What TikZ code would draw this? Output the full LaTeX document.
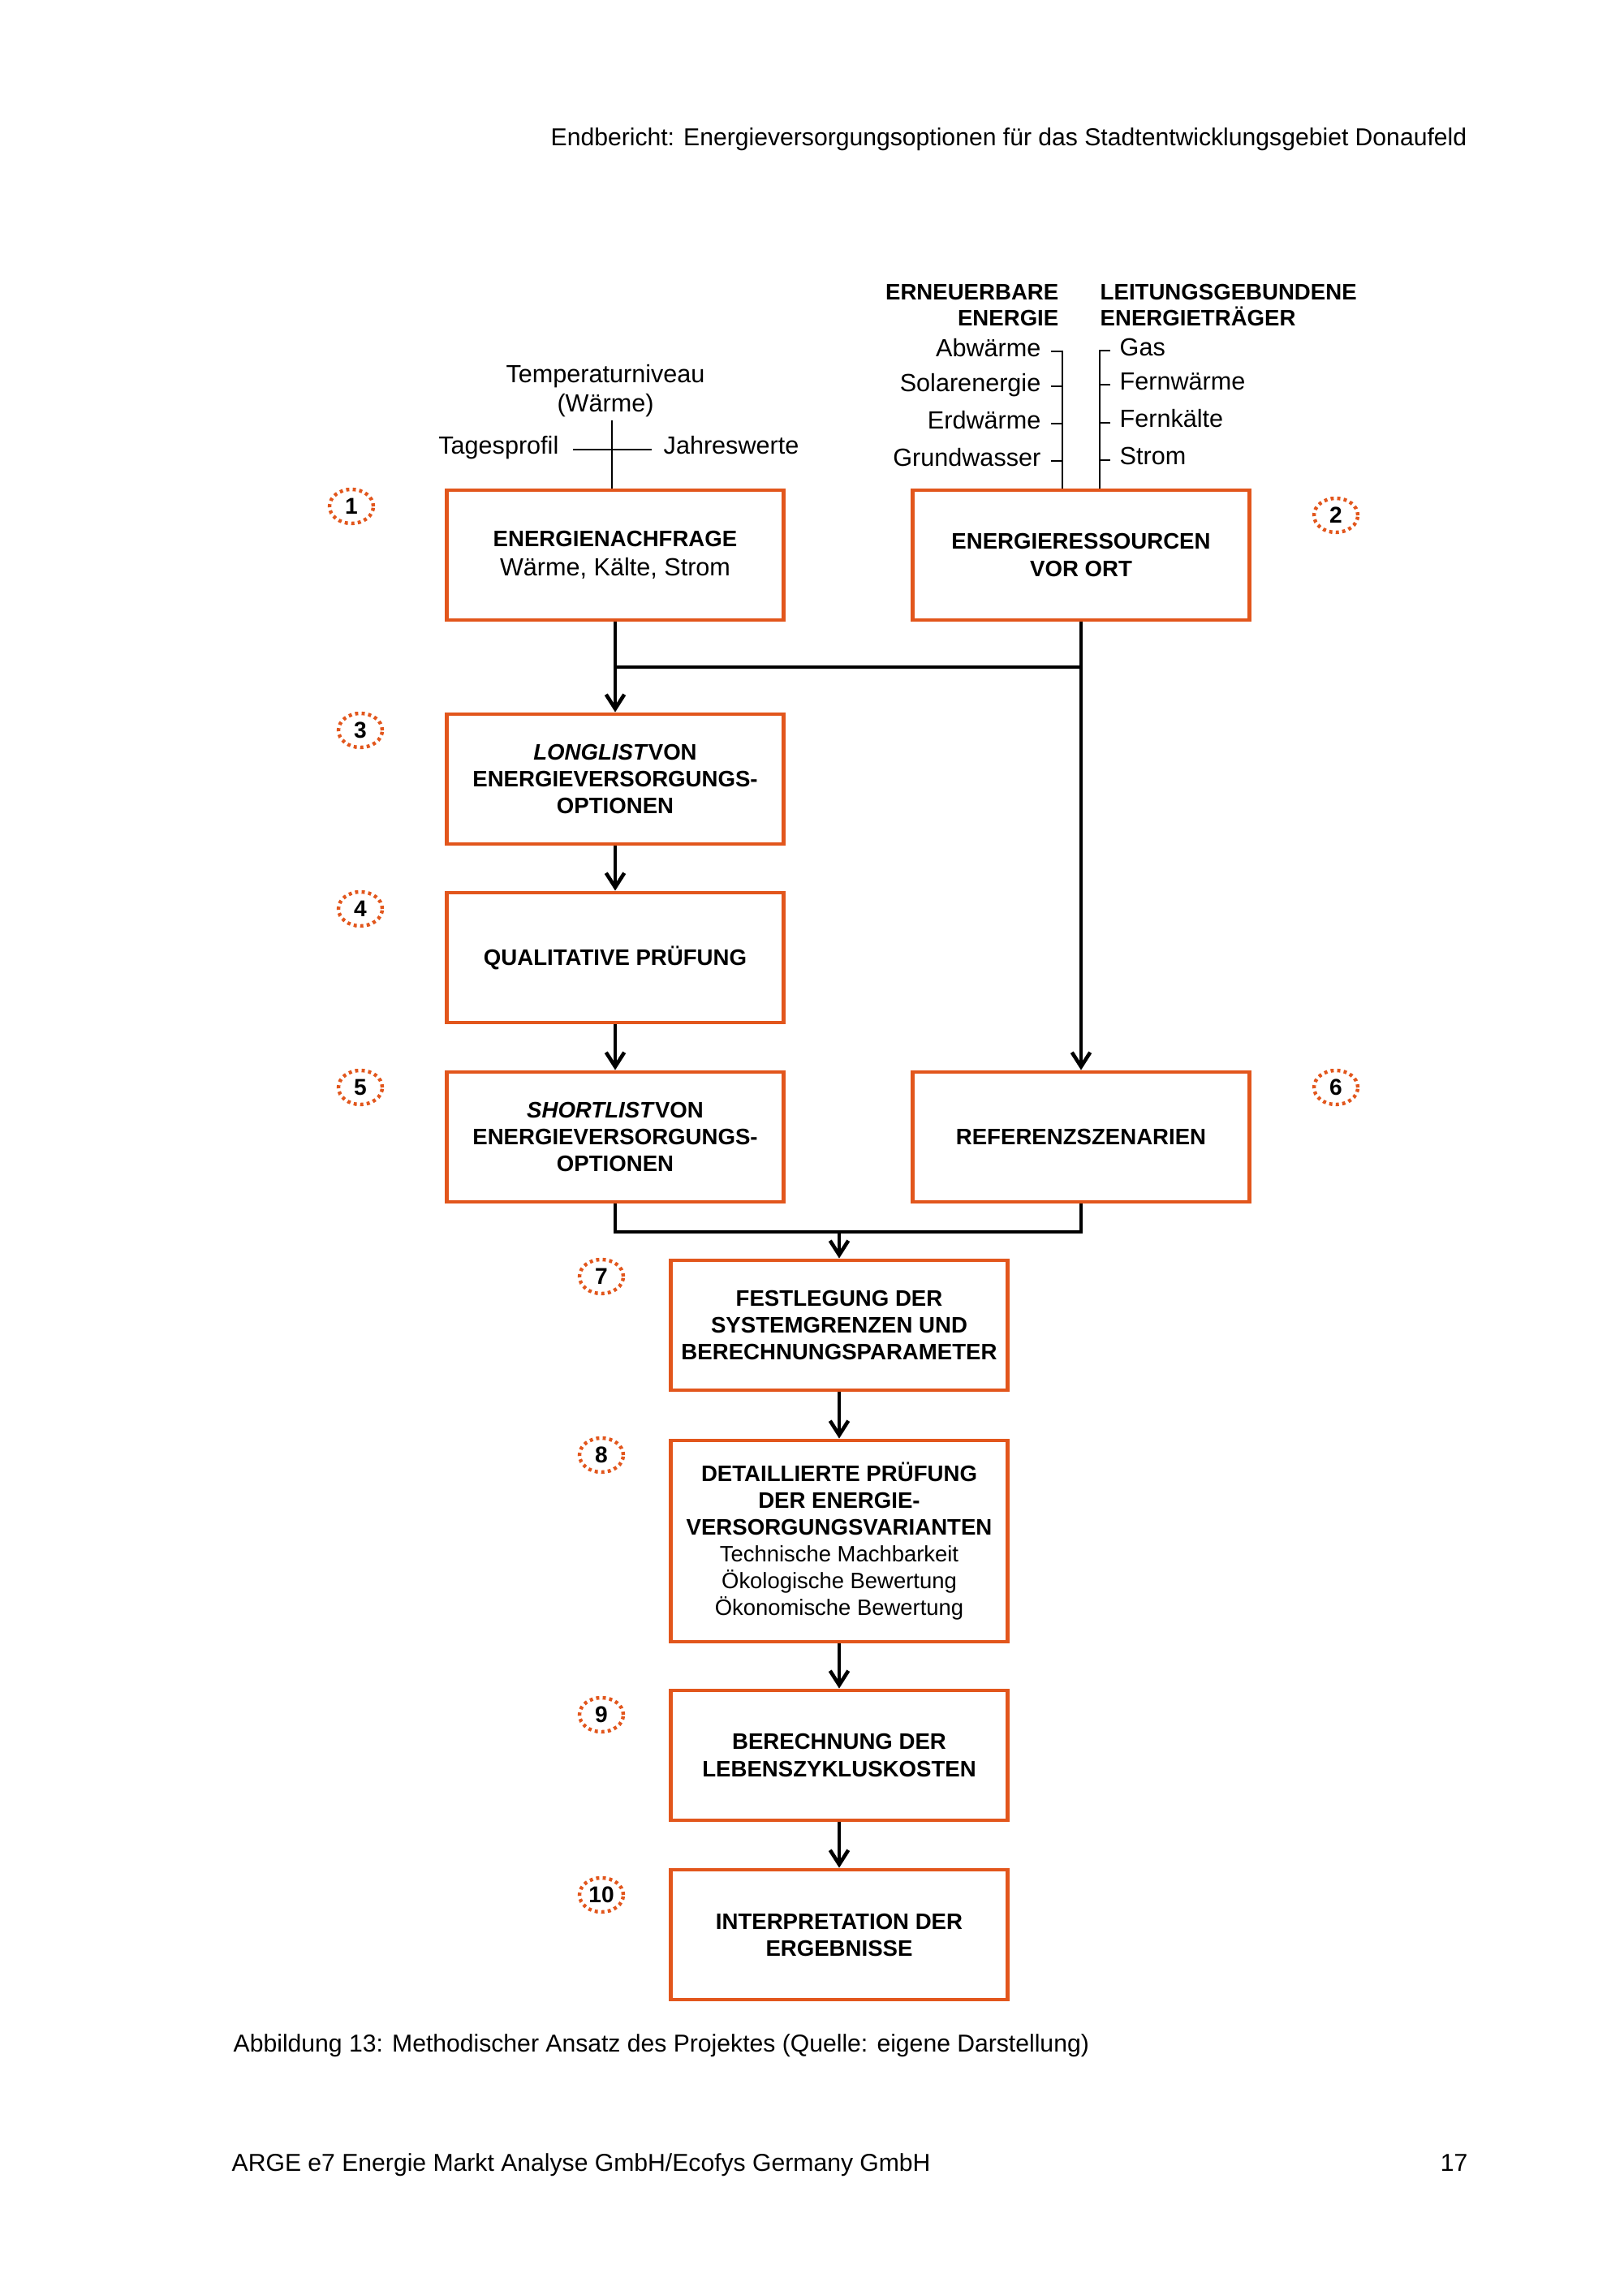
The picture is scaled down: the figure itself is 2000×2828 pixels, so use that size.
\documentclass[tikz,border=0pt]{standalone}
\usepackage{fontspec}
\setmainfont{Liberation Sans}
\usetikzlibrary{arrows.meta,shapes.geometric}
\definecolor{eorange}{RGB}{226,86,28}
\newcommand{\subl}{\mdseries\fontsize{7.8}{9.4}\selectfont}
\begin{document}
\begin{tikzpicture}[x=0.01cm,y=-0.01cm,
  box/.style={draw=eorange, line width=1.35pt, minimum width=4.15cm, minimum height=1.6cm,
    align=center, inner sep=0pt, font=\bfseries\fontsize{7.85}{9.4}\selectfont},
  bigbox/.style={box, minimum height=2.48cm},
  num/.style={ellipse, draw=eorange, line width=1.25pt, dash pattern=on 1.1pt off 1.2pt,
    minimum width=0.54cm, minimum height=0.42cm, inner sep=0pt,
    font=\bfseries\fontsize{8}{9}\selectfont},
  conn/.style={line width=1.3pt, draw=black},
  arr/.style={conn, -{Straight Barb[length=5pt,width=6.4pt,line width=1.3pt]}},
  thinline/.style={line width=0.45pt, draw=black},
  lbl/.style={font=\fontsize{8.7}{10.4}\selectfont, inner sep=0pt},
  hlbl/.style={font=\bfseries\fontsize{7.85}{9.2}\selectfont, inner sep=0pt},
  page/.style={font=\fontsize{8.57}{10}\selectfont, inner sep=0pt}]
\fill[white] (0,0) rectangle (2000,2828);
\useasboundingbox (0,0) rectangle (2000,2828);

% page texts
\node[page, anchor=base east] (hdr) at (1808,180) {Endbericht: Energieversorgungsoptionen für das Stadtentwicklungsgebiet Donaufeld};
\node[page, anchor=base west] (cap) at (287,2528) {Abbildung 13: Methodischer Ansatz des Projektes (Quelle: eigene Darstellung)};
\node[page, anchor=base west] (ftr) at (285,2675) {ARGE e7 Energie Markt Analyse GmbH/Ecofys Germany GmbH};
\node[page, anchor=base east] (pno) at (1809,2675) {17};

% boxes
\node[box] (b1) at (758,684) {ENERGIENACHFRAGE\\[1pt]\mdseries\fontsize{8.7}{10.4}\selectfont Wärme, Kälte, Strom};
\node[box] (b2) at (1332,684) {ENERGIERESSOURCEN\\VOR ORT};
\node[box] (b3) at (758,960) {\textit{LONGLIST}VON\\ENERGIEVERSORGUNGS-\\OPTIONEN};
\node[box] (b4) at (758,1180) {QUALITATIVE PRÜFUNG};
\node[box] (b5) at (758,1401) {\textit{SHORTLIST}VON\\ENERGIEVERSORGUNGS-\\OPTIONEN};
\node[box] (b6) at (1332,1401) {REFERENZSZENARIEN};
\node[box] (b7) at (1034,1633) {FESTLEGUNG DER\\SYSTEMGRENZEN UND\\BERECHNUNGSPARAMETER};
\node[bigbox] (b8) at (1034,1899) {DETAILLIERTE PRÜFUNG\\DER ENERGIE-\\VERSORGUNGSVARIANTEN\\\subl Technische Machbarkeit\\\subl Ökologische Bewertung\\\subl Ökonomische Bewertung};
\node[box] (b9) at (1034,2163) {BERECHNUNG DER\\LEBENSZYKLUSKOSTEN};
\node[box] (b10) at (1034,2384) {INTERPRETATION DER\\ERGEBNISSE};

% numbers
\node[num] (n1) at (433,624) {1};
\node[num] (n2) at (1646,635) {2};
\node[num] (n3) at (444,900) {3};
\node[num] (n4) at (444,1120) {4};
\node[num] (n5) at (444,1340) {5};
\node[num] (n6) at (1646,1340) {6};
\node[num] (n7) at (741,1573) {7};
\node[num] (n8) at (741,1793) {8};
\node[num] (n9) at (741,2113) {9};
\node[num] (n10) at (741,2335) {10};

% connectors
\coordinate (j1) at (758,822);
\coordinate (j2) at (1332,822);
\coordinate (j3) at (1034,1518);
\draw[arr] (b1.south) -- (b3.north);
\draw[arr] (b2.south) -- (b6.north);
\draw[conn] (j2) -- (j1);
\draw[arr] (b3.south) -- (b4.north);
\draw[arr] (b4.south) -- (b5.north);
\draw[conn] (b5.south) |- (j3) -| (b6.south);
\draw[arr] (j3) -- (b7.north);
\draw[arr] (b7.south) -- (b8.north);
\draw[arr] (b8.south) -- (b9.north);
\draw[arr] (b9.south) -- (b10.north);

% demand tree
\node[lbl, anchor=base] (tn) at (746,472) {Temperaturniveau};
\node[lbl, anchor=base] (tw) at (746,508) {(Wärme)};
\node[lbl, anchor=base east] (tp) at (689,560) {Tagesprofil};
\node[lbl, anchor=base west] (jw) at (817,560) {Jahreswerte};
\coordinate (t1) at (754,518);
\coordinate (th1) at (706,554);
\coordinate (th2) at (803,554);
\draw[thinline] (t1) -- (t1 |- b1.north);
\draw[thinline] (th1) -- (th2);

% resources lists
\node[hlbl, anchor=base east] (eh1) at (1305,370) {ERNEUERBARE};
\node[hlbl, anchor=base east] (eh2) at (1305,402) {ENERGIE};
\node[hlbl, anchor=base west] (lh1) at (1355,370) {LEITUNGSGEBUNDENE};
\node[hlbl, anchor=base west] (lh2) at (1355,402) {ENERGIETRÄGER};

\node[lbl, anchor=base east] (e1) at (1283,440) {Abwärme};
\node[lbl, anchor=base east] (e2) at (1283,483) {Solarenergie};
\node[lbl, anchor=base east] (e3) at (1283,529) {Erdwärme};
\node[lbl, anchor=base east] (e4) at (1283,575) {Grundwasser};
\node[lbl, anchor=base west] (g1) at (1379,439) {Gas};
\node[lbl, anchor=base west] (g2) at (1379,481) {Fernwärme};
\node[lbl, anchor=base west] (g3) at (1379,527) {Fernkälte};
\node[lbl, anchor=base west] (g4) at (1379,573) {Strom};

\coordinate (ls) at (1309,433);
\coordinate (rs) at (1355,432);
\draw[thinline] (1295,433) -- (ls) -- (ls |- b2.north);
\draw[thinline] (1295,476) -- (1309,476);
\draw[thinline] (1295,522) -- (1309,522);
\draw[thinline] (1295,568) -- (1309,568);
\draw[thinline] (1368,432) -- (rs) -- (rs |- b2.north);
\draw[thinline] (1355,474) -- (1368,474);
\draw[thinline] (1355,521) -- (1368,521);
\draw[thinline] (1355,567) -- (1368,567);
\end{tikzpicture}
\end{document}
